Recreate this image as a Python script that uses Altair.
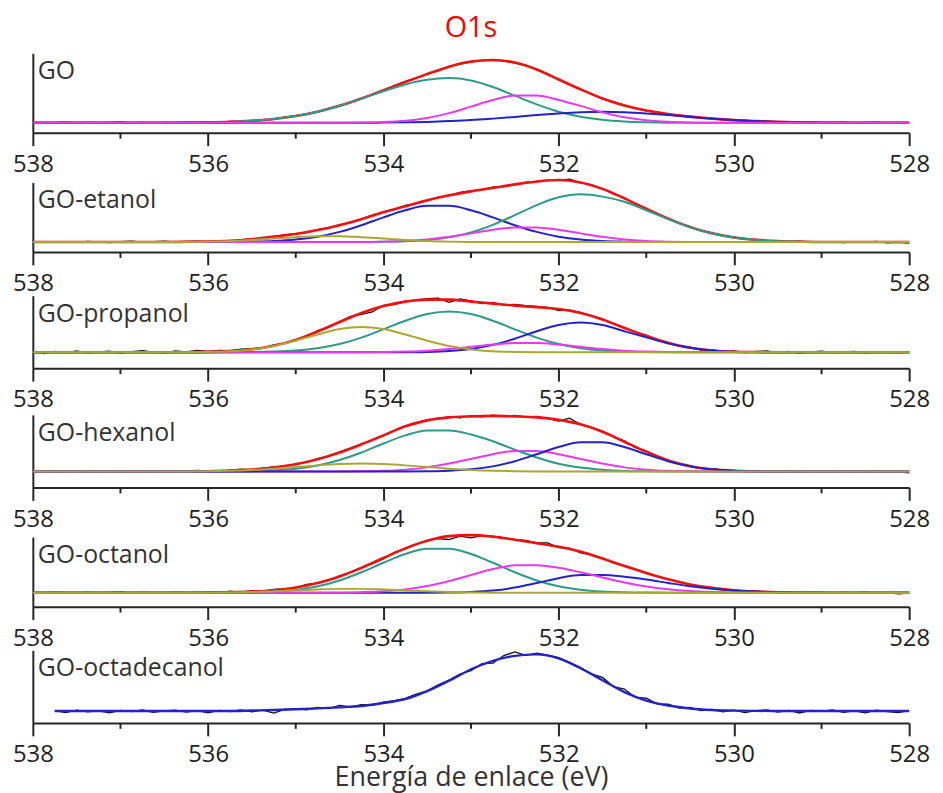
import altair as alt
import pandas as pd

# ---------------- data ----------------
# Fit curves sampled every 0.25 eV from 538 to 528 eV (41 values),
# raw spectra sampled every 0.125 eV from 538 to 528 eV (81 values).
# Values are heights above the panel's background line (arbitrary units).

GO_RED = [0, 0, 0, 0, 0, 0, 0.1, 0.2, 0.4, 0.9, 2.0, 3.8, 6.8, 11.2, 17.1, 24.5, 32.7, 41.1, 49.0, 56.4,
          61.6, 63.2, 60.6, 53.7, 43.6, 33.7, 24.5, 17.4, 12.4, 8.9, 6.2, 4.2, 2.7, 1.7, 0.9, 0.5, 0.2,
          0, 0, 0, 0]
GO_TEAL = [0, 0, 0, 0, 0, 0, 0, 0, 0.4, 0.9, 2.0, 3.8, 6.8, 11.2, 17.1, 24.3, 31.8, 38.6, 43.3, 45.0,
           42.6, 36.0, 27.3, 18.5, 11.2, 6.1, 3.0, 1.3, 0.5, 0.1, 0, 0, 0, 0, 0, 0, 0, 0, 0, 0, 0]
GO_MAGENTA = [0, 0, 0, 0, 0, 0, 0, 0, 0, 0, 0, 0, 0, 0, 0, 0.2, 0.7, 2.0, 4.8, 9.7, 16.3, 23.0, 27.4,
              27.4, 23.0, 17.0, 10.5, 5.5, 2.5, 1.0, 0.3, 0, 0, 0, 0, 0, 0, 0, 0, 0, 0]
GO_BLUE = [0, 0, 0, 0, 0, 0, 0, 0, 0, 0, 0, 0, 0, 0, 0, 0, 0.2, 0.5, 0.9, 1.7, 2.7, 4.2, 5.9, 7.8, 9.4,
           10.6, 11.0, 10.6, 9.4, 7.8, 5.9, 4.2, 2.7, 1.7, 0.9, 0.5, 0.2, 0, 0, 0, 0]
GO_BLACK = [0.3, -0.4, 0.2, 0.6, -0.3, 0.4, -0.5, 0.3, 0.8, -0.2,
            0.3, -0.6, 0.4, 0.1, 0.7, -0.1, 0.6, 0.5, 1.4, 1.2,
            2.4, 2.7, 3.6, 5.6, 7.2, 8.6, 11.0, 14.6, 17.6, 20.3,
            24.9, 28.1, 32.2, 37.4, 41.6, 44.9, 49.5, 52.2, 56.9, 59.0,
            61.0, 62.9, 63.6, 62.3, 60.1, 57.9, 53.2, 49.2, 43.9, 38.4,
            34.2, 28.9, 24.1, 21.3, 17.8, 14.4, 12.1, 10.9, 8.5, 7.8,
            6.6, 4.9, 4.5, 3.1, 2.4, 2.6, 1.4, 1.5, 0.5, 1.1,
            0.2, 0.7, -0.3, 0.4, 0.6, -0.2, 0.3, 0.7, -0.4, 0.2,
            0.1]

ET_RED = [0, 0, 0, 0, 0, 0, 0, 0.2, 0.5, 1.2, 2.8, 5.5, 8.0, 12.0, 17.0, 23.0, 30.0, 36.0, 42.0, 47.0,
          51.0, 54.5, 58.0, 61.0, 62.5, 60.0, 53.5, 44.0, 33.5, 23.5, 15.0, 8.8, 4.6, 2.3, 1.0, 0.4,
          0, 0, 0, 0, 0]
ET_BLUE = [0, 0, 0, 0, 0, 0, 0, 0, 0, 0, 0.4, 1.0, 2.5, 5.4, 10.2, 16.9, 24.8, 32.0, 36.4, 36.4, 32.0,
           24.8, 16.9, 10.2, 5.4, 2.5, 1.0, 0.4, 0.1, 0, 0, 0, 0, 0, 0, 0, 0, 0, 0, 0, 0]
ET_TEAL = [0, 0, 0, 0, 0, 0, 0, 0, 0, 0, 0, 0, 0, 0, 0, 0, 0.3, 0.8, 2.1, 4.8, 9.7, 17.3, 27.0, 37.2,
           45.0, 48.0, 45.7, 40.5, 32.0, 23.0, 14.8, 8.6, 4.5, 2.1, 0.9, 0.4, 0.1, 0, 0, 0, 0]
ET_MAGENTA = [0, 0, 0, 0, 0, 0, 0, 0, 0, 0, 0, 0, 0, 0, 0, 0, 0.4, 1.1, 2.6, 5.2, 8.7, 12.3, 14.7, 14.7,
              12.3, 8.7, 5.2, 2.6, 1.1, 0.4, 0.1, 0, 0, 0, 0, 0, 0, 0, 0, 0, 0]
ET_OLIVE = [0, 0, 0, 0, 0, 0, 0, 0.1, 0.4, 1.0, 2.1, 3.5, 4.9, 5.9, 5.9, 4.9, 3.5, 2.1, 1.0, 0.4, 0.1,
            0, 0, 0, 0, 0, 0, 0, 0, 0, 0, 0, 0, 0, 0, 0, 0, 0, 0, 0, 0]
ET_BLACK = [0.4, -0.3, 0.5, 0.1, -0.4, 0.6, 0.2, -0.5, 0.3, 0.9,
            -0.2, 0.4, 0.8, 0.1, 0.6, 0.9, 0.3, 1.4, 1.0, 2.4,
            3.3, 3.9, 5.2, 7.4, 8.5, 9.6, 12.4, 14.2, 17.6, 19.5,
            23.2, 27.1, 30.4, 32.6, 36.8, 38.7, 41.5, 45.3, 46.8, 49.9,
            51.6, 52.4, 55.3, 55.9, 57.6, 60.2, 60.8, 62.4, 62.0, 63.3,
            59.7, 57.6, 53.9, 48.2, 44.6, 38.0, 33.9, 28.0, 23.9, 18.8,
            15.4, 11.3, 9.2, 6.2, 5.1, 3.0, 2.6, 1.2, 1.3, 0.2,
            0.8, -0.3, 0.5, 0.2, -0.6, 0.4, -0.2, 0.6, -0.8, -0.3,
            -1.0]

PR_RED = [0, 0, 0, 0, 0, 0, 0, 0.1, 0.4, 1.2, 3.0, 6.5, 12.5, 21.0, 30.5, 39.5, 46.5, 51.0, 53.0, 53.0,
          51.0, 49.0, 47.0, 45.5, 43.5, 39.5, 33.0, 24.5, 16.5, 9.4, 4.6, 1.8, 0.6, 0.2,
          0, 0, 0, 0, 0, 0, 0]
PR_OLIVE = [0, 0, 0, 0, 0, 0, 0, 0.1, 0.4, 1.1, 2.9, 6.3, 11.7, 18.0, 23.4, 25.5, 23.4, 18.0, 11.7, 6.3,
            2.9, 1.1, 0.4, 0.1, 0, 0, 0, 0, 0, 0, 0, 0, 0, 0, 0, 0, 0, 0, 0, 0, 0]
PR_TEAL = [0, 0, 0, 0, 0, 0, 0, 0, 0, 0, 0.2, 0.7, 1.8, 4.1, 8.3, 14.8, 23.1, 31.8, 38.5, 41.0, 38.5,
           31.8, 23.1, 14.8, 8.3, 4.1, 1.8, 0.7, 0.2, 0, 0, 0, 0, 0, 0, 0, 0, 0, 0, 0, 0]
PR_BLUE = [0, 0, 0, 0, 0, 0, 0, 0, 0, 0, 0, 0, 0, 0, 0, 0, 0, 0.1, 0.4, 1.3, 3.4, 7.5, 13.7, 21.2, 27.5,
           30.0, 27.5, 21.2, 15.0, 9.0, 4.5, 1.8, 0.6, 0.2, 0, 0, 0, 0, 0, 0, 0]
PR_MAGENTA = [0, 0, 0, 0, 0, 0, 0, 0, 0, 0, 0, 0, 0, 0, 0, 0, 0.2, 0.7, 1.6, 3.3, 5.5, 7.8, 9.3, 9.3,
              7.8, 5.5, 3.3, 1.6, 0.7, 0.2, 0, 0, 0, 0, 0, 0, 0, 0, 0, 0, 0]
PR_BLACK = [0.6, -1.2, 0.9, -0.5, 1.4, -0.8, 0.3, 1.1, -1.0, 0.7,
            1.6, 0.2, -0.9, 1.3, 0.5, 1.8, 0.9, 1.9, 1.6, 3.1,
            3.8, 4.5, 7.6, 9.2, 12.9, 16.4, 21.8, 25.1, 30.9, 36.2,
            38.1, 40.6, 47.3, 48.1, 51.6, 52.4, 53.9, 54.6, 50.2, 53.8,
            51.7, 49.0, 50.3, 47.6, 48.1, 46.9, 46.2, 45.1, 41.9, 42.5,
            40.1, 36.8, 33.6, 28.7, 25.2, 20.4, 17.3, 12.6, 9.9, 6.3,
            5.1, 2.2, 2.6, 0.4, 1.5, -0.6, 0.9, 1.3, -0.4, 0.8,
            -1.1, 0.5, 1.2, -0.3, 0.4, 1.0, -0.7, 0.6, 0.2, -0.5,
            0.3]

HX_RED = [0, 0, 0, 0, 0, 0, 0, 0.1, 0.35, 0.9, 2.0, 4.1, 7.3, 12.3, 19.1, 27.4, 36.4, 45.5, 51.5, 54.5,
          55.5, 56.0, 55.5, 54.5, 52.0, 47.5, 40.0, 30.0, 20.0, 11.1, 5.4, 2.2, 0.8, 0.2,
          0, 0, 0, 0, 0, 0, 0]
HX_TEAL = [0, 0, 0, 0, 0, 0, 0, 0, 0, 0.1, 0.4, 1.2, 2.8, 6.1, 11.6, 19.2, 28.2, 36.4, 41.3, 41.3, 37.3,
           30.5, 22.0, 14.2, 7.9, 4.0, 1.8, 0.6, 0.2, 0, 0, 0, 0, 0, 0, 0, 0, 0, 0, 0, 0]
HX_MAGENTA = [0, 0, 0, 0, 0, 0, 0, 0, 0, 0, 0, 0, 0, 0, 0, 0.2, 0.7, 1.9, 4.2, 8.0, 12.7, 17.5, 20.6,
              20.6, 17.5, 12.7, 8.0, 4.2, 1.9, 0.7, 0.2, 0, 0, 0, 0, 0, 0, 0, 0, 0, 0]
HX_BLUE = [0, 0, 0, 0, 0, 0, 0, 0, 0, 0, 0, 0, 0, 0, 0, 0, 0, 0, 0.2, 0.8, 2.2, 5.2, 10.4, 17.4, 24.7,
           29.4, 29.4, 24.7, 17.4, 10.4, 5.2, 2.2, 0.8, 0.2, 0, 0, 0, 0, 0, 0, 0]
HX_OLIVE = [0, 0, 0, 0, 0, 0, 0, 0.1, 0.35, 0.8, 1.6, 2.9, 4.5, 6.2, 7.5, 8.0, 7.5, 6.2, 4.5, 2.9, 1.6,
            0.8, 0.35, 0.1, 0, 0, 0, 0, 0, 0, 0, 0, 0, 0, 0, 0, 0, 0, 0, 0, 0]
HX_BLACK = [-0.5, 0.4, -0.2, 0.8, 0.1, -0.6, 0.5, 0.2, -0.3, 0.9,
            0.3, -0.4, 0.6, -0.1, 0.4, 1.1, 0.5, 0.2, 1.3, 2.5,
            1.7, 3.4, 4.6, 5.0, 7.8, 9.4, 12.9, 15.3, 19.8, 23.6,
            27.9, 31.4, 36.0, 41.2, 45.9, 48.1, 52.2, 53.0, 55.3, 54.1,
            56.2, 55.0, 56.8, 55.7, 56.4, 55.1, 55.4, 53.6, 50.9, 53.8,
            47.2, 44.5, 40.6, 35.2, 30.8, 24.1, 20.5, 15.7, 11.6, 7.9,
            6.0, 3.2, 2.8, 0.9, 1.2, 0.1, 0.7, -0.4, 0.5, 0.2,
            -0.5, 0.9, 0.3, -0.2, 0.6, 1.0, -0.4, 0.2, -0.9, -0.3,
            -1.2]

OC_RED = [0, 0, 0, 0, 0, 0, 0, 0, 0.1, 0.45, 1.15, 2.6, 5.3, 9.8, 16.4, 25.1, 35.0, 44.7, 52.4, 57.0,
          58.0, 56.4, 53.4, 49.9, 46.3, 41.4, 34.4, 27.0, 19.9, 13.5, 8.4, 4.9, 2.6, 1.2, 0.5, 0.2,
          0, 0, 0, 0, 0]
OC_TEAL = [0, 0, 0, 0, 0, 0, 0, 0, 0, 0.15, 0.45, 1.2, 3.0, 6.5, 12.4, 20.6, 30.2, 39.0, 44.3, 44.3,
           39.0, 30.2, 20.6, 12.4, 6.5, 3.0, 1.2, 0.45, 0.15, 0, 0, 0, 0, 0, 0, 0, 0, 0, 0, 0, 0]
OC_MAGENTA = [0, 0, 0, 0, 0, 0, 0, 0, 0, 0, 0, 0, 0, 0, 0.1, 0.6, 1.5, 3.4, 6.7, 11.8, 17.9, 23.9, 27.6,
              27.7, 25.1, 20.6, 15.4, 10.4, 6.4, 3.6, 1.8, 0.8, 0.3, 0, 0, 0, 0, 0, 0, 0, 0]
OC_BLUE = [0, 0, 0, 0, 0, 0, 0, 0, 0, 0, 0, 0, 0, 0, 0, 0, 0, 0, 0, 0.2, 0.8, 2.2, 5.2, 9.8, 14.7,
           17.8, 17.8, 16.1, 13.3, 9.9, 6.6, 4.1, 2.3, 1.2, 0.5, 0.2, 0, 0, 0, 0, 0]
OC_OLIVE = [0, 0, 0, 0, 0, 0, 0, 0, 0.1, 0.3, 0.7, 1.4, 2.3, 3.3, 3.9, 3.9, 3.3, 2.3, 1.4, 0.7, 0.3,
            0.1, 0, 0, 0, 0, 0, 0, 0, 0, 0, 0, 0, 0, 0, 0, 0, 0, 0, 0, 0]
OC_BLACK = [0.2, -0.5, 0.6, 0.1, -0.3, 0.5, -0.6, 0.3, 0.8, -0.2,
            0.4, 0.0, -0.5, 0.7, 0.2, -0.3, 0.6, 0.1, 1.5, 0.6,
            2.0, 1.6, 3.3, 3.9, 5.0, 8.3, 9.6, 12.5, 16.9, 20.7,
            25.6, 29.2, 34.1, 40.6, 44.2, 48.9, 52.8, 54.4, 53.6, 56.9,
            55.2, 57.5, 56.9, 55.4, 53.8, 52.6, 50.3, 50.2, 45.4, 44.9,
            40.2, 38.1, 34.9, 30.1, 27.3, 23.9, 19.4, 16.2, 13.9, 10.6,
            8.2, 6.6, 4.5, 3.9, 2.2, 1.4, 1.6, 0.5, 0.1, 0.8,
            -0.2, 0.4, 0.6, -0.4, 0.3, -0.1, 0.5, -0.6, 0.2, -1.0,
            -0.4]

OD_BLUE = [None, 0, 0, 0, 0, 0, 0, 0, 0, 0, 0.5, 1.0, 1.8, 2.6, 3.6, 5.0, 8.0, 12.0, 20.0, 30.5, 42.0,
           50.5, 55.5, 57.0, 53.0, 43.0, 31.0, 19.0, 10.5, 5.5, 2.5, 1.0, 0.4, 0.1, 0, 0, 0, 0, 0, 0, 0]
OD_BLACK = [None, None, 0.3, -1.5, 0.8, -0.9, 0.2, -1.8, 0.6, -0.7,
            1.0, -1.4, 0.1, 0.9, -1.1, 0.4, -1.9, 0.7, -0.5, 1.2,
            -0.8, 0.9, -2.1, 1.5, 2.4, 1.1, 3.5, 2.4, 5.6, 4.1,
            6.5, 5.8, 8.9, 10.4, 12.8, 16.9, 20.3, 26.4, 31.1, 37.2,
            40.5, 47.6, 48.2, 55.8, 59.4, 55.9, 58.1, 56.2, 53.7, 48.9,
            43.6, 37.4, 33.8, 24.6, 22.1, 13.8, 12.9, 7.1, 6.8, 2.9,
            3.6, 0.4, 1.7, -0.8, 0.9, -1.6, 0.3, 1.1, -1.2, 0.5,
            -2.0, 0.6, -0.4, 1.0, -1.3, 0.2, -1.9, 0.8, -0.6, -1.7,
            0.4]

PANEL_NAMES = ["GO", "GO-etanol", "GO-propanol", "GO-hexanol", "GO-octanol", "GO-octadecanol"]
MAJOR_TICKS = [538, 536, 534, 532, 530, 528]
MINOR_TICKS = [537, 535, 533, 531, 529]

E_FIT = [round(538 - 0.25 * i, 3) for i in range(41)]
E_RAW = [round(538 - 0.125 * j, 3) for j in range(81)]

# ---------------- styling ----------------
FONT = "Open Sans"
AXC = "#262626"
TXT = "#333333"
COL = {"red": "#f51010", "teal": "#2e9a8a", "blue": "#2323c8",
       "magenta": "#e83ae8", "olive": "#a8a832", "black": "#111111"}
WIDTH = 882

PANELS = [
    dict(name=PANEL_NAMES[0], h=80, base=10, black=GO_BLACK,
         curves=[("red", GO_RED), ("teal", GO_TEAL), ("blue", GO_BLUE), ("magenta", GO_MAGENTA)]),
    dict(name=PANEL_NAMES[1], h=70, base=10, black=ET_BLACK,
         curves=[("red", ET_RED), ("blue", ET_BLUE), ("teal", ET_TEAL), ("magenta", ET_MAGENTA), ("olive", ET_OLIVE)]),
    dict(name=PANEL_NAMES[2], h=73, base=16, black=PR_BLACK,
         curves=[("red", PR_RED), ("teal", PR_TEAL), ("blue", PR_BLUE), ("magenta", PR_MAGENTA), ("olive", PR_OLIVE)]),
    dict(name=PANEL_NAMES[3], h=73, base=16, black=HX_BLACK,
         curves=[("red", HX_RED), ("teal", HX_TEAL), ("magenta", HX_MAGENTA), ("blue", HX_BLUE), ("olive", HX_OLIVE)]),
    dict(name=PANEL_NAMES[4], h=70, base=14, black=OC_BLACK,
         curves=[("red", OC_RED), ("teal", OC_TEAL), ("blue", OC_BLUE), ("magenta", OC_MAGENTA), ("olive", OC_OLIVE)]),
    dict(name=PANEL_NAMES[5], h=73, base=12, black=OD_BLACK,
         curves=[("blue", OD_BLUE)]),
]


def make_panel(p, last):
    h, b = p["h"], p["base"]
    xscale = alt.Scale(domain=[538, 528], nice=False, zero=False)
    yscale = alt.Scale(domain=[-b, h - b], nice=False, zero=False)
    axis_kw = dict(values=MAJOR_TICKS, format="d", tickSize=13, tickWidth=2, tickColor=AXC,
                   domainColor=AXC, domainWidth=2, labelFontSize=24, labelFont=FONT,
                   labelColor="#222222", labelPadding=7, labelFlush=False, grid=False)
    if last:
        xaxis = alt.Axis(title="Energía de enlace (eV)", titleFontSize=27, titleFont=FONT,
                         titleColor=TXT, titleFontWeight="normal", titlePadding=-2, **axis_kw)
    else:
        xaxis = alt.Axis(title=None, **axis_kw)
    yaxis = alt.Axis(title=None, ticks=False, labels=False, grid=False,
                     domainColor=AXC, domainWidth=2)
    X = alt.X("E:Q", scale=xscale, axis=xaxis)
    Y = alt.Y("v:Q", scale=yscale, axis=yaxis)

    def line(E, vals, color, width, interp):
        df = pd.DataFrame({"E": E, "v": vals}).dropna()
        return alt.Chart(df).mark_line(color=COL[color], strokeWidth=width,
                                       interpolate=interp).encode(x=X, y=Y)

    # raw spectrum first, fitted envelope and components drawn over it
    layers = [line(E_RAW, p["black"], "black", 1.3, "linear")]
    for name, vals in p["curves"]:
        width = 2.6 if name == "red" else 2.0
        if len(p["curves"]) == 1:
            width = 2.4
        layers.append(line(E_FIT, vals, name, width, "monotone"))

    minor = alt.Chart(pd.DataFrame({"E": MINOR_TICKS})).mark_rule(
        color=AXC, strokeWidth=2).encode(x=X, y=alt.value(h), y2=alt.value(h + 6))
    label = alt.Chart(pd.DataFrame({"t": [p["name"]]})).mark_text(
        align="left", baseline="middle", fontSize=25, font=FONT, color=TXT).encode(
        text="t:N", x=alt.value(5), y=alt.value(18))
    layers += [minor, label]
    return alt.layer(*layers).properties(width=WIDTH, height=h)


panels = [make_panel(p, i == len(PANELS) - 1) for i, p in enumerate(PANELS)]

chart = alt.vconcat(*panels, spacing=-2).properties(
    title=alt.TitleParams("O1s", color="#ff0000", fontSize=29, font=FONT,
                          fontWeight="normal", anchor="middle", offset=10),
    padding={"left": 4, "right": 5, "top": 4, "bottom": 0},
).configure_view(stroke=None)

chart.save("out.html", embed_options={"renderer": "svg", "actions": False})
